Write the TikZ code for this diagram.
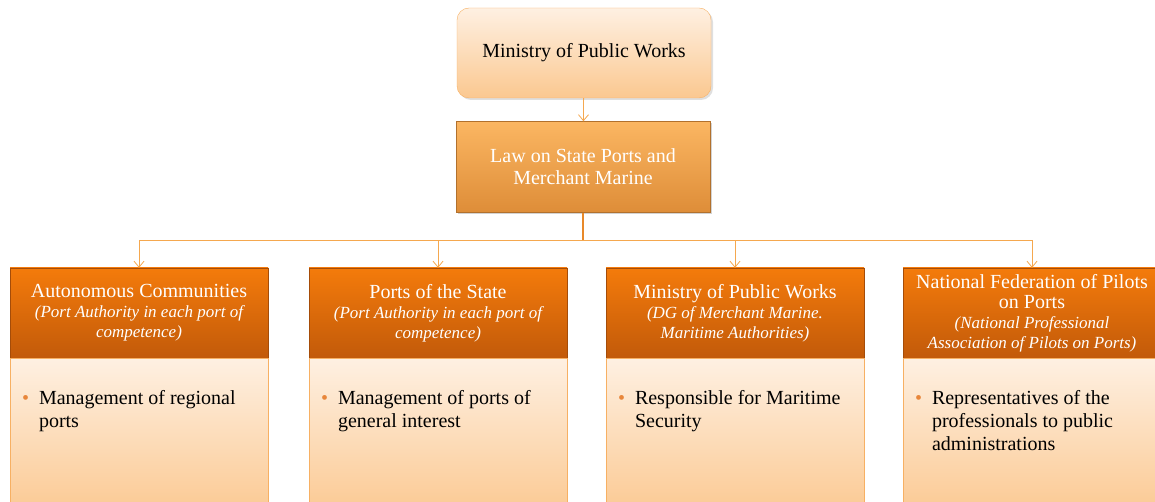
\documentclass[tikz,border=0pt]{standalone}
\usepackage{fontspec}
\setmainfont{Liberation Serif}
\usetikzlibrary{positioning,shadows,arrows.meta}

\definecolor{peachtop}{HTML}{FEF0E2}
\definecolor{peachbot}{HTML}{FBC890}
\definecolor{lawtop}{HTML}{FBB662}
\definecolor{lawbot}{HTML}{DE8D38}
\definecolor{headtop}{HTML}{F47B0B}
\definecolor{headbot}{HTML}{C25A0A}
\definecolor{frameor}{HTML}{F7B063}
\definecolor{linkor}{HTML}{F5A84F}
\definecolor{trunkor}{HTML}{E8892A}
\definecolor{bulletor}{HTML}{E8863A}

\newcommand\subline[1]{{\fontsize{17}{19}\selectfont\itshape #1}}
\newcommand\bodytext[1]{\parbox[t][160pt][t]{258pt}{\vspace*{32pt}\leftskip=12pt\hangindent=17pt\hangafter=1\noindent\makebox[17pt][l]{\textcolor{bulletor}{\textbullet}}#1}}

\tikzset{
  topbox/.style={rectangle, rounded corners=12pt, draw=frameor, top color=peachtop, bottom color=peachbot,
    minimum width=254pt, minimum height=90pt, font=\fontsize{20}{22}\selectfont,
    drop shadow={opacity=0.25, shadow xshift=2pt, shadow yshift=-2pt}},
  lawbox/.style={rectangle, draw=lawbot!80!black, top color=lawtop, bottom color=lawbot, text=white,
    minimum width=254pt, minimum height=91pt, align=center, font=\fontsize{20}{22}\selectfont,
    drop shadow={opacity=0.35, shadow xshift=2pt, shadow yshift=-2pt}},
  headbox/.style={rectangle, draw=headbot!85!black, top color=headtop, bottom color=headbot, text=white,
    minimum width=258pt, minimum height=90pt, align=center, inner sep=2pt, font=\fontsize{20}{20}\selectfont,
    drop shadow={opacity=0.3, shadow xshift=1pt, shadow yshift=-1pt}},
  bodybox/.style={rectangle, draw=frameor, top color=peachtop, bottom color=peachbot, inner sep=0pt,
    font=\fontsize{20}{23}\selectfont, drop shadow={opacity=0.25, shadow xshift=1pt, shadow yshift=-1pt}},
  link/.style={draw=linkor, line width=0.8pt, -{Straight Barb[length=6pt,width=10pt]}},
  trunk/.style={draw=trunkor, line width=2pt}
}

\begin{document}
\begin{tikzpicture}[x=1pt,y=-1pt]
\useasboundingbox (0,0) rectangle (1155,502);

\node[topbox] (minpw) at (584,53) {Ministry of Public Works};
\node[lawbox] (law) at (583,167) {Law on State Ports and\\Merchant Marine};

\node[headbox] (hdA) at (139,313) {Autonomous Communities\\ \subline{(Port Authority in each port of}\\ \subline{competence)}};
\node[bodybox, below=0pt of hdA] (bdA) {\bodytext{Management of regional\\ports}};

\node[headbox] (hdB) at (438,313) {Ports of the State\\ \subline{(Port Authority in each port of}\\ \subline{competence)}};
\node[bodybox, below=0pt of hdB] (bdB) {\bodytext{Management of ports of\\general interest}};

\node[headbox] (hdC) at (735,313) {Ministry of Public Works\\ \subline{(DG of Merchant Marine.}\\ \subline{Maritime Authorities)}};
\node[bodybox, below=0pt of hdC] (bdC) {\bodytext{Responsible for Maritime\\Security}};

\node[headbox] (hdD) at (1032,313) {National Federation of Pilots\\on Ports\\ \subline{(National Professional}\\ \subline{Association of Pilots on Ports)}};
\node[bodybox, below=0pt of hdD] (bdD) {\bodytext{Representatives of the\\professionals to public\\administrations}};

\coordinate (split) at (583,240);

% connectors
\draw[link] (minpw) -- (law);
\draw[trunk] (law.south) -- (split);
\draw[link] (split) -| (hdA.north);
\draw[link] (split) -| (hdB.north);
\draw[link] (split) -| (hdC.north);
\draw[link] (split) -| (hdD.north);
\end{tikzpicture}
\end{document}
